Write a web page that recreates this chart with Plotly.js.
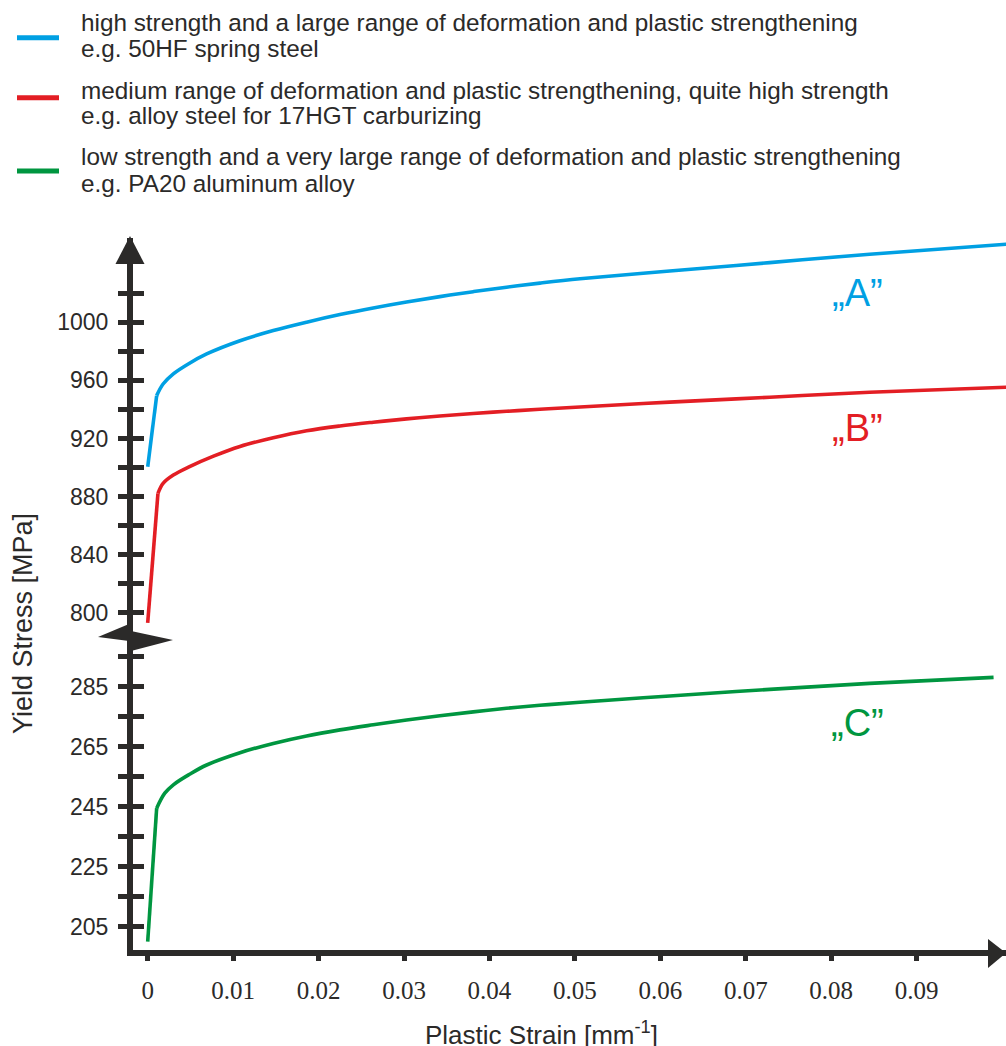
<!DOCTYPE html>
<html>
<head>
<meta charset="utf-8">
<script src="https://cdn.plot.ly/plotly-3.0.1.min.js"></script>
<style>html,body{margin:0;padding:0;background:#fff;}#chart{width:1006px;height:1046px;}</style>
</head>
<body>
<div id="chart"></div>
<script>
// ---------------- data ----------------
const strainA = [0, 0.00105, 0.0018, 0.003, 0.0048, 0.0069, 0.0108, 0.0147, 0.0186, 0.0225, 0.0264, 0.0303, 0.0342, 0.0381, 0.0420, 0.0459, 0.0506, 0.0611, 0.0728, 0.0845, 0.1005];
const stressA = [900.5, 949.5, 957.5, 964.5, 971.5, 978.2, 987.3, 994.3, 1000.1, 1005.3, 1009.9, 1014.0, 1017.7, 1021.1, 1024.2, 1027.0, 1030.0, 1035.3, 1041.1, 1046.9, 1053.8];

const strainB = [0, 0.0012, 0.0018, 0.003, 0.0049, 0.0077, 0.0108, 0.0147, 0.0186, 0.0225, 0.0264, 0.0303, 0.0342, 0.0381, 0.0420, 0.0459, 0.0506, 0.0611, 0.0728, 0.0845, 0.1005];
const stressB = [793.0, 882.2, 889.1, 894.8, 900.6, 907.8, 914.5, 920.5, 925.3, 928.6, 931.2, 933.5, 935.5, 937.2, 938.7, 940.1, 941.7, 945.0, 948.4, 951.8, 955.3];

const strainC = [0, 0.00105, 0.002, 0.003, 0.0049, 0.0069, 0.0108, 0.0147, 0.0186, 0.0225, 0.0264, 0.0303, 0.0342, 0.0381, 0.0420, 0.0459, 0.0506, 0.0611, 0.0728, 0.0845, 0.0990];
const stressC = [200.0, 244.5, 249.5, 252.3, 255.8, 258.9, 263.0, 266.1, 268.6, 270.6, 272.3, 273.9, 275.3, 276.6, 277.8, 278.8, 279.8, 281.9, 284.1, 286.1, 288.1];

const xTickVals = [0, 0.01, 0.02, 0.03, 0.04, 0.05, 0.06, 0.07, 0.08, 0.09];
const xTickText = ['0', '0.01', '0.02', '0.03', '0.04', '0.05', '0.06', '0.07', '0.08', '0.09'];
const yUpperTickVals = [800, 820, 840, 860, 880, 900, 920, 940, 960, 980, 1000, 1020];
const yUpperTickText = ['800', ' ', '840', ' ', '880', ' ', '920', ' ', '960', ' ', '1000', ' '];
const yLowerTickVals = [205, 215, 225, 235, 245, 255, 265, 275, 285, 295];
const yLowerTickText = ['205', ' ', '225', ' ', '245', ' ', '265', ' ', '285', ' '];

const seriesNames = [
  ['high strength and a large range of deformation and plastic strengthening', 'e.g. 50HF spring steel'],
  ['medium range of deformation and plastic strengthening, quite high strength', 'e.g. alloy steel for 17HGT carburizing'],
  ['low strength and a very large range of deformation and plastic strengthening', 'e.g. PA20 aluminum alloy']
];
const curveLabels = ['\u201EA\u201D', '\u201EB\u201D', '\u201EC\u201D'];
const xTitle = 'Plastic Strain [mm<sup>-1</sup>]';
const yTitle = 'Yield Stress [MPa]';

// ---------------- style ----------------
const colors = ['#00a0e3', '#e31e24', '#009640'];
const dark = '#2b2a29';
const sans = 'Liberation Sans, Arial, sans-serif';
const serif = 'Liberation Serif, Times New Roman, serif';

const W = 1006, H = 1046;
const L = 133, R = 1006, T = 238, B = 950;
const pw = R - L, ph = B - T;
const px = x => (x - L) / pw;
const py = y => (B - y) / ph;
const pt = (x, y) => px(x).toFixed(5) + ',' + py(y).toFixed(5);
const breakPx = 636;
const dSplit = py(breakPx);

// each series: a straight elastic segment up to the yield point, then a smooth hardening curve
const series = [
  {x: strainA, y: stressA, axis: 'y'},
  {x: strainB, y: stressB, axis: 'y'},
  {x: strainC, y: stressC, axis: 'y2'}
];
const traces = [];
series.forEach((s, i) => {
  const name = seriesNames[i].join(' ');
  traces.push({x: s.x.slice(0, 2), y: s.y.slice(0, 2), xaxis: 'x', yaxis: s.axis, mode: 'lines', name: name,
    legendgroup: 'g' + i, showlegend: false, line: {color: colors[i], width: 3.6}});
  traces.push({x: s.x.slice(1), y: s.y.slice(1), xaxis: 'x', yaxis: s.axis, mode: 'lines', name: name,
    legendgroup: 'g' + i, line: {color: colors[i], width: 3.6, shape: 'spline', smoothing: 1}});
});
traces.push({x: [], y: [], xaxis: 'x', yaxis: 'y3', mode: 'lines', showlegend: false, hoverinfo: 'skip'});
traces.push({x: [], y: [], xaxis: 'x', yaxis: 'y4', mode: 'lines', showlegend: false, hoverinfo: 'skip'});

const upperRange = [800 - (breakPx - 612.7) / 1.452, 800 + (612.7 - T) / 1.452];
const lowerRange = [205 - (B - 926.7) / 3, 205 + (926.7 - breakPx) / 3];

const yCommon = {
  anchor: 'x', showgrid: false, zeroline: false, showline: true, linewidth: 6, linecolor: dark,
  ticks: 'outside', ticklen: 9, tickwidth: 5, tickcolor: dark, tickmode: 'array',
  tickfont: {family: sans, size: 23, color: dark}, ticklabelstandoff: 5, fixedrange: true
};
const yOverlay = {
  anchor: 'x', showgrid: false, zeroline: false, showline: false,
  ticks: 'inside', ticklen: 11, tickwidth: 5, tickcolor: dark, tickmode: 'array',
  showticklabels: false, fixedrange: true
};

const annotations = [];
const lineY = [[22.4, 48.4], [90, 115.7], [156.7, 183.4]];
seriesNames.forEach((pair, i) => {
  pair.forEach((t, j) => {
    annotations.push({xref: 'paper', yref: 'paper', x: px(79), y: py(lineY[i][j]), xanchor: 'left', yanchor: 'middle',
      text: t, showarrow: false, font: {family: sans, size: 24.3, color: dark}});
  });
});
const labelY = [292.5, 428, 722.5];
curveLabels.forEach((t, i) => {
  annotations.push({xref: 'paper', yref: 'paper', x: px(857.5), y: py(labelY[i]), xanchor: 'center', yanchor: 'middle',
    text: t, showarrow: false, font: {family: sans, size: 38, color: colors[i]}});
});
annotations.push({xref: 'paper', yref: 'paper', x: px(541), y: py(1033), xanchor: 'center', yanchor: 'middle',
  text: xTitle, showarrow: false, font: {family: sans, size: 26, color: dark}});
annotations.push({xref: 'paper', yref: 'paper', x: px(23), y: py(624), xanchor: 'center', yanchor: 'middle',
  text: yTitle, textangle: -90, showarrow: false, font: {family: sans, size: 27, color: dark}});

const shapes = [];
const swatchY = [37.7, 97.7, 171];
swatchY.forEach((y, i) => {
  shapes.push({type: 'line', xref: 'paper', yref: 'paper', x0: px(17), x1: px(59), y0: py(y), y1: py(y),
    line: {color: colors[i], width: 5}});
});
// axis arrowheads
shapes.push({type: 'path', xref: 'paper', yref: 'paper', path: 'M' + pt(115.5, 264) + 'L' + pt(130, 236) + 'L' + pt(144.5, 264) + 'Z',
  fillcolor: dark, line: {width: 0}});
shapes.push({type: 'path', xref: 'paper', yref: 'paper', path: 'M' + pt(988, 939) + 'L' + pt(1006, 953) + 'L' + pt(988, 968) + 'Z',
  fillcolor: dark, line: {width: 0}});
// axis break mark
shapes.push({type: 'path', xref: 'paper', yref: 'paper', path: 'M' + pt(98, 637) + 'L' + pt(129, 624) + 'L' + pt(129, 641) + 'Z',
  fillcolor: dark, line: {width: 0}});
shapes.push({type: 'path', xref: 'paper', yref: 'paper', path: 'M' + pt(131, 631) + 'L' + pt(173, 640) + 'L' + pt(131, 651) + 'Z',
  fillcolor: dark, line: {width: 0}});

const layout = {
  width: W, height: H,
  margin: {l: L, r: W - R, t: T, b: H - B, pad: 0},
  paper_bgcolor: '#fff', plot_bgcolor: '#fff',
  showlegend: false,
  xaxis: {
    anchor: 'y2', domain: [0, 1], range: [(L - 147.7) / 8544, (R - 147.7) / 8544],
    showgrid: false, zeroline: false, showline: true, linewidth: 6, linecolor: dark,
    ticks: 'outside', ticklen: 5, tickwidth: 5, tickcolor: dark,
    tickmode: 'array', tickvals: xTickVals, ticktext: xTickText,
    tickfont: {family: serif, size: 25, color: dark}, ticklabelstandoff: 8, fixedrange: true
  },
  yaxis: Object.assign({}, yCommon, {domain: [dSplit, 1], range: upperRange, tickvals: yUpperTickVals, ticktext: yUpperTickText}),
  yaxis2: Object.assign({}, yCommon, {domain: [0, dSplit], range: lowerRange, tickvals: yLowerTickVals, ticktext: yLowerTickText}),
  yaxis3: Object.assign({}, yOverlay, {overlaying: 'y', range: upperRange, tickvals: yUpperTickVals}),
  yaxis4: Object.assign({}, yOverlay, {overlaying: 'y2', range: lowerRange, tickvals: yLowerTickVals}),
  annotations: annotations,
  shapes: shapes
};

Plotly.newPlot('chart', traces, layout, {displayModeBar: false, staticPlot: true});
</script>
</body>
</html>
